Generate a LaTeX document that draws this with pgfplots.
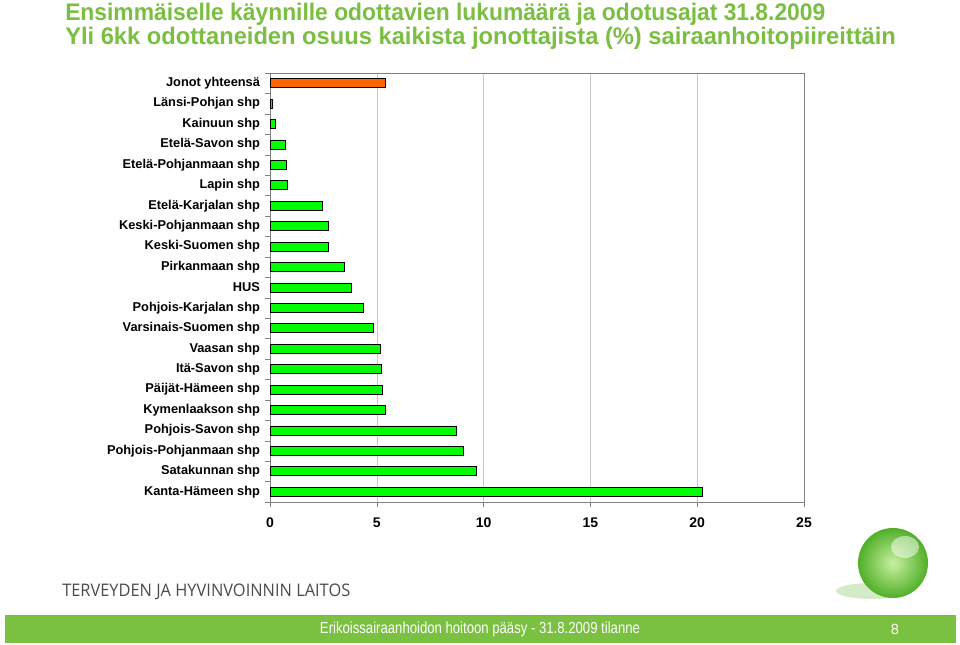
\documentclass[border=0pt]{standalone}
\usepackage{pgfplots}
\pgfplotsset{compat=1.18}
\usepackage{fontspec}
\setmainfont{Liberation Sans}
\newfontfamily\footfont{Open Sans}
\usepackage{graphicx}
\definecolor{titlegreen}{RGB}{122,190,66}
\definecolor{bargreen}{RGB}{0,255,0}
\definecolor{barorange}{RGB}{255,102,0}
\definecolor{footgreen}{RGB}{122,193,66}
\definecolor{gridgray}{RGB}{200,200,200}
\definecolor{axgray}{RGB}{128,128,128}
\definecolor{sphereinner}{RGB}{200,240,160}
\definecolor{sphereouter}{RGB}{80,175,40}
\begin{document}
\begin{tikzpicture}
\begin{scope}[x=0.75pt,y=0.75pt]
\fill[white] (0,0) rectangle (960,645);
% title
\node[anchor=base west,inner sep=0pt,text=titlegreen,font=\bfseries\fontsize{18}{20}\selectfont] at (65,624)
  {\resizebox{570pt}{\height}{Ensimmäiselle käynnille odottavien lukumäärä ja odotusajat 31.8.2009}};
\node[anchor=base west,inner sep=0pt,text=titlegreen,font=\bfseries\fontsize{18}{20}\selectfont] at (65,600)
  {\resizebox{623pt}{\height}{Yli 6kk odottaneiden osuus kaikista jonottajista (\%) sairaanhoitopiireittäin}};
% footer
\node[anchor=base west,inner sep=0pt,text=black!70,font=\footfont\fontsize{13}{15}\selectfont] at (62,48)
  {\resizebox{216pt}{\height}{TERVEYDEN JA HYVINVOINNIN LAITOS}};
\fill[footgreen] (5,2) rectangle (956,30);
\node[text=white,font=\fontsize{12}{14}\selectfont,inner sep=0pt] at (480,16) {\resizebox{240pt}{\height}{Erikoissairaanhoidon hoitoon pääsy - 31.8.2009 tilanne}};
\node[text=white,font=\fontsize{11}{13}\selectfont,inner sep=0pt] at (895,16) {8};
% logo
\fill[sphereouter!25] (872,54) ellipse (36 and 8);
\shade[inner color=sphereinner, outer color=sphereouter] (893,82) circle (35);
\fill[white,opacity=0.5] (905,98) ellipse (14 and 11);
\end{scope}
\begin{axis}[
  at={(202.5pt,107.25pt)}, anchor=south west,
  scale only axis, width=400.5pt, height=321.75pt,
  xbar, bar shift=0pt, bar width=6.75pt,
  xmin=0, xmax=25, ymin=-0.5, ymax=20.5, y dir=reverse,
  xtick={0,5,...,25},
  ytick={0,...,20},
  yticklabels={Jonot yhteensä,Länsi-Pohjan shp,Kainuun shp,Etelä-Savon shp,Etelä-Pohjanmaan shp,Lapin shp,Etelä-Karjalan shp,Keski-Pohjanmaan shp,Keski-Suomen shp,Pirkanmaan shp,HUS,Pohjois-Karjalan shp,Varsinais-Suomen shp,Vaasan shp,Itä-Savon shp,Päijät-Hämeen shp,Kymenlaakson shp,Pohjois-Savon shp,Pohjois-Pohjanmaan shp,Satakunnan shp,Kanta-Hämeen shp},
  major tick length=0pt,
  extra x ticks={0,5,...,25}, extra x tick labels={},
  extra y ticks={-0.5,0.5,...,20.5}, extra y tick labels={},
  extra tick style={major tick length=3.5pt, tick align=outside, grid=none},
  xtick pos=bottom, ytick pos=left,
  xmajorgrids, grid style={color=gridgray},
  axis line style={axgray},
  tick style={axgray},
  x tick label style={font=\bfseries\fontsize{10.5}{12}\selectfont, yshift=-8pt},
  y tick label style={font=\bfseries\fontsize{9.6}{11}\selectfont, xshift=-4pt},
  /pgf/number format/assume math mode=true,
]
\addplot[fill=barorange, draw=black, line width=0.6pt] coordinates {(5.39,0)};
\addplot[fill=bargreen, draw=black, line width=0.6pt] coordinates {
(0.11,1) (0.27,2) (0.70,3) (0.78,4) (0.83,5) (2.44,6) (2.72,7) (2.72,8) (3.48,9) (3.79,10)
(4.39,11) (4.84,12) (5.17,13) (5.23,14) (5.28,15) (5.42,16) (8.74,17) (9.06,18) (9.65,19) (20.22,20)};
\end{axis}
\end{tikzpicture}
\end{document}
